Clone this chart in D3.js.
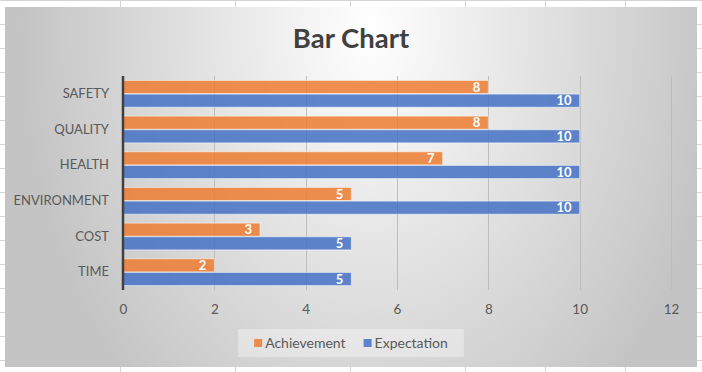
<!DOCTYPE html>
<html>
<head>
<meta charset="utf-8">
<script src="https://cdn.jsdelivr.net/npm/d3@7"></script>
<style>
  body { margin: 0; background: #fff; }
  svg { display: block; font-family: Lato, "Open Sans", sans-serif; }
</style>
</head>
<body>
<svg id="chart" width="702" height="372"></svg>
<script>
const categories = ['SAFETY', 'QUALITY', 'HEALTH', 'ENVIRONMENT', 'COST', 'TIME']
const achievement = [8, 8, 7, 5, 3, 2]
const expectation = [10, 10, 10, 10, 5, 5]
const seriesNames = ['Achievement', 'Expectation']
const seriesColors = ['#ED7D31', '#4472C4']
const xTicks = [0, 2, 4, 6, 8, 10, 12]
const sheetCols = [120, 235, 350, 465, 545, 625]

const W = 702, H = 372
const svg = d3.select('#chart')

// spreadsheet behind the chart
const sheet = svg.append('g').attr('stroke', '#d4d4d4').attr('stroke-width', 1)
sheet.selectAll('line.h')
  .data(d3.range(0, H, 24))
  .enter().append('line')
  .attr('x1', 0).attr('x2', W)
  .attr('y1', d => d + 0.5).attr('y2', d => d + 0.5)
sheet.selectAll('line.v')
  .data(sheetCols)
  .enter().append('line')
  .attr('x1', d => d + 0.5).attr('x2', d => d + 0.5)
  .attr('y1', 0).attr('y2', H)

// chart area with radial gradient
const defs = svg.append('defs')
const grad = defs.append('radialGradient')
  .attr('id', 'bg')
  .attr('gradientUnits', 'userSpaceOnUse')
  .attr('cx', 370).attr('cy', 30).attr('r', 350)
  .attr('gradientTransform', 'translate(370,30) scale(1,1.4) translate(-370,-30)')
grad.append('stop').attr('offset', 0).attr('stop-color', '#ffffff')
grad.append('stop').attr('offset', 1).attr('stop-color', '#c4c4c4')

svg.append('rect')
  .attr('x', 5).attr('y', 7)
  .attr('width', 692).attr('height', 360)
  .attr('fill', 'url(#bg)')

svg.append('text')
  .attr('x', 351).attr('y', 48)
  .attr('text-anchor', 'middle')
  .style('font-size', '27.5px')
  .style('font-weight', 'bold')
  .style('fill', '#404040')
  .text('Bar Chart')

const plot = { left: 123, right: 671, top: 76, bottom: 290 }

const x = d3.scaleLinear()
  .domain([0, 12])
  .range([plot.left, plot.right])

const y0 = d3.scaleBand()
  .domain(categories)
  .range([plot.top, plot.bottom])
  .paddingInner(0.25)
  .paddingOuter(0.125)

const y1 = d3.scaleBand()
  .domain(seriesNames)
  .range([0, y0.bandwidth()])
  .paddingInner(0.04)

const color = d3.scaleOrdinal().domain(seriesNames).range(seriesColors)

// gridlines
svg.append('g')
  .selectAll('line')
  .data(xTicks.slice(1))
  .enter().append('line')
  .attr('x1', d => Math.round(x(d)) + 0.5)
  .attr('x2', d => Math.round(x(d)) + 0.5)
  .attr('y1', plot.top).attr('y2', plot.bottom)
  .attr('stroke', '#bdbdbd')

// x tick labels
const xAxis = d3.axisBottom(x).tickValues(xTicks).tickSize(0).tickPadding(0)
const gx = svg.append('g')
  .attr('transform', `translate(0,${plot.bottom + 14})`)
  .call(xAxis)
gx.select('.domain').remove()
gx.selectAll('text')
  .attr('dy', '0.71em')
  .style('font-size', '13.5px')
  .style('font-family', 'Lato, sans-serif')
  .style('fill', '#595959')

// category labels
const yAxis = d3.axisLeft(y0).tickSize(0).tickPadding(14)
const gy = svg.append('g')
  .attr('transform', `translate(${plot.left},0)`)
  .call(yAxis)
gy.select('.domain').remove()
gy.selectAll('text')
  .style('font-size', '13px')
  .style('font-family', 'Lato, sans-serif')
  .style('fill', '#595959')

// bars
const rows = categories.map((c, i) => ({
  cat: c,
  values: [
    { name: seriesNames[0], value: achievement[i] },
    { name: seriesNames[1], value: expectation[i] }
  ]
}))

const groups = svg.append('g')
  .selectAll('g')
  .data(rows)
  .enter().append('g')
  .attr('transform', d => `translate(0,${y0(d.cat)})`)

groups.selectAll('rect')
  .data(d => d.values)
  .enter().append('rect')
  .attr('x', x(0))
  .attr('y', d => y1(d.name))
  .attr('width', d => x(d.value) - x(0))
  .attr('height', y1.bandwidth())
  .attr('fill', d => color(d.name))
  .attr('fill-opacity', 0.85)
  .attr('stroke', '#ffffff')
  .attr('stroke-opacity', 0.5)
  .attr('stroke-width', 1)

groups.selectAll('text')
  .data(d => d.values)
  .enter().append('text')
  .attr('x', d => x(d.value) - 8)
  .attr('y', d => y1(d.name) + y1.bandwidth() / 2)
  .attr('dy', '0.36em')
  .attr('text-anchor', 'end')
  .style('font-size', '13px')
  .style('font-weight', 'bold')
  .style('fill', '#ffffff')
  .text(d => d.value)

// category axis line
svg.append('line')
  .attr('x1', x(0)).attr('x2', x(0))
  .attr('y1', plot.top).attr('y2', plot.bottom)
  .attr('stroke', '#404040')
  .attr('stroke-width', 2.5)

// legend
const legend = svg.append('g')
const legendBox = legend.append('rect')
  .attr('fill', '#ffffff')
  .attr('fill-opacity', 0.35)
const items = legend.selectAll('g')
  .data(seriesNames)
  .enter().append('g')
items.append('rect')
  .attr('width', 8).attr('height', 8)
  .attr('y', -4)
  .attr('fill', d => color(d))
  .attr('fill-opacity', 0.85)
items.append('text')
  .attr('x', 11)
  .attr('dy', '0.36em')
  .style('font-size', '14px')
  .style('fill', '#595959')
  .text(d => d)

let offset = 0
const widths = []
items.each(function() {
  const w = 11 + d3.select(this).select('text').node().getComputedTextLength()
  widths.push(w)
})
const gap = 18
const total = d3.sum(widths) + gap * (widths.length - 1)
const legendPad = 16
const legendX = 351 - total / 2
items.attr('transform', (d, i) => {
  const t = `translate(${legendX + offset},343)`
  offset += widths[i] + gap
  return t
})
legendBox
  .attr('x', legendX - legendPad).attr('y', 329)
  .attr('width', total + legendPad * 2).attr('height', 28)
</script>
</body>
</html>
